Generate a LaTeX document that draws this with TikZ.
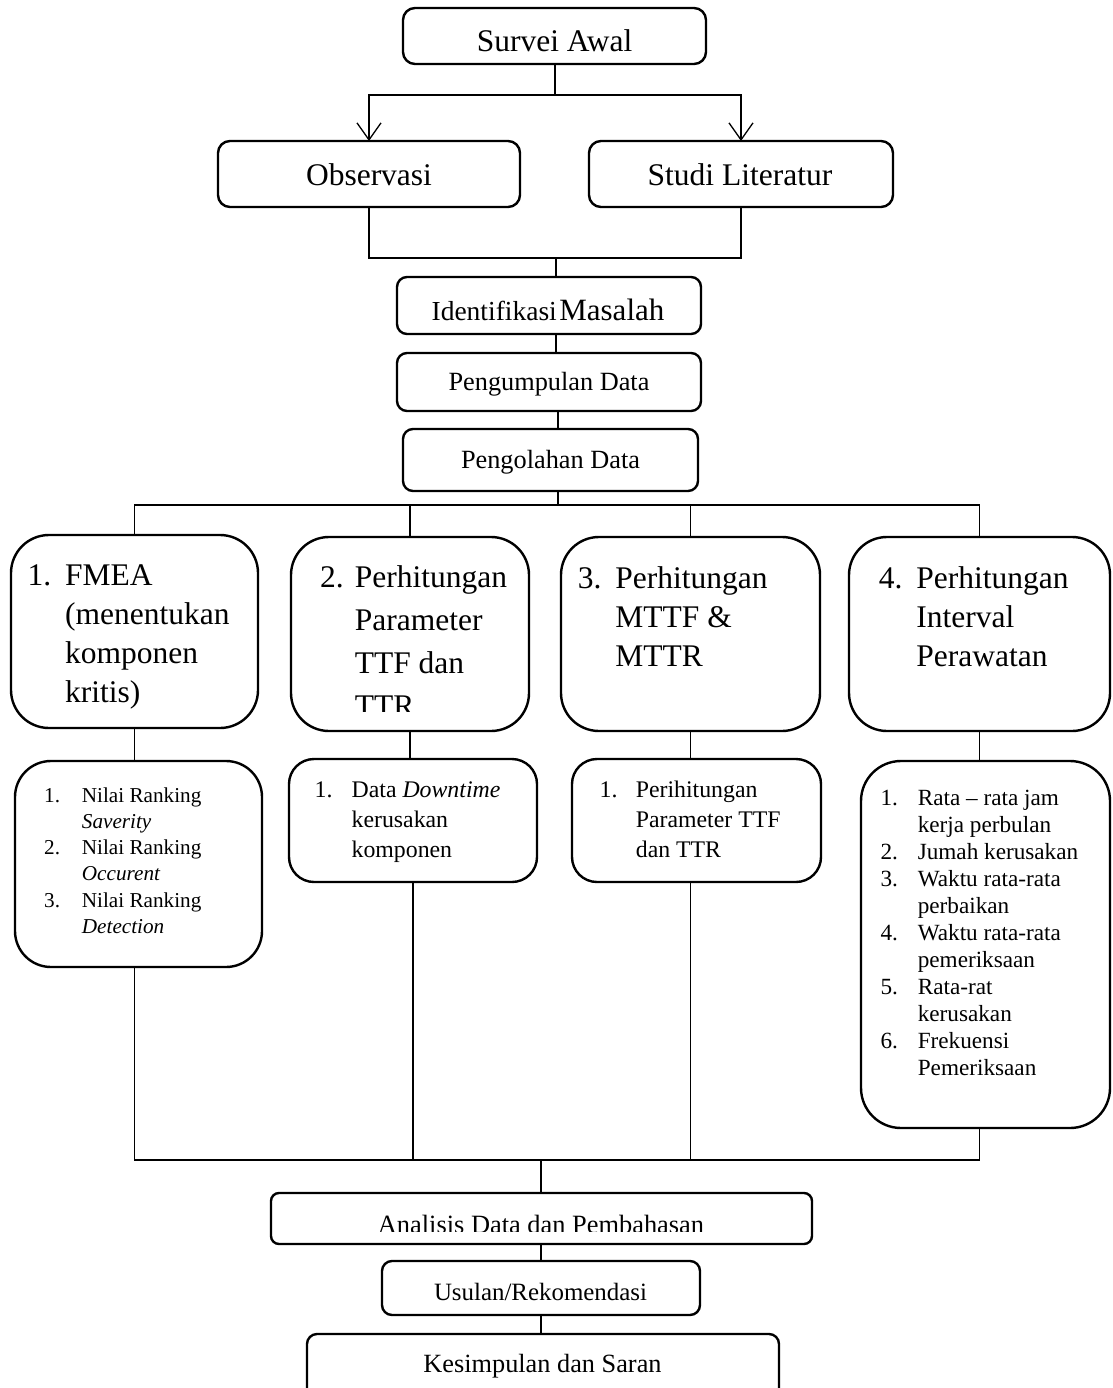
\documentclass[tikz,border=0pt]{standalone}
\usepackage{fontspec}
\setmainfont{Liberation Serif}
\usetikzlibrary{arrows.meta}
\newcommand{\myfs}[2]{\fontsize{#1}{#2}\selectfont}
\tikzset{
  box/.style={draw, line width=2.4pt, rounded corners=#1, inner sep=0pt, outer sep=0pt},
  box/.default=10pt,
  conn/.style={line width=1.3pt},
  arr/.style={conn, -{Straight Barb[length=17pt,width=24pt]}},
  lbl/.style={inner sep=0pt, anchor=base},
  lst/.style={inner sep=0pt, anchor=base west},
}
\begin{document}
\begin{tikzpicture}[x=1pt,y=-1pt]
\clip (0,0) rectangle (1112,1388);
\fill[white] (0,0) rectangle (1112,1388);

% ---------- top boxes ----------
\node[box=12pt, minimum width=303pt, minimum height=56pt] (survei) at (554.5,36) {};
\node[lbl, font={\myfs{31.5}{38}}] (tsurvei) at (554.5,51.7) {Survei Awal};

\node[box=12pt, minimum width=302pt, minimum height=66pt] (obs) at (369,174) {};
\node[lbl, font={\myfs{31.5}{38}}] (tobs) at (369,186) {Observasi};

\node[box=12pt, minimum width=304pt, minimum height=66pt] (studi) at (741,174) {};
\node[lbl, font={\myfs{31.5}{38}}] (tstudi) at (740,186) {Studi Literatur};

\node[box=10pt, minimum width=304pt, minimum height=57pt] (ident) at (549,305.5) {};
\node[lbl] (tident) at (548,320) {{\myfs{27.5}{33}Identifikasi} {\myfs{31}{37}Masalah}};

\node[box=10pt, minimum width=304pt, minimum height=58pt] (pengu) at (549,382) {};
\node[lbl, font={\myfs{26.3}{32}}] (tpengu) at (549,390) {Pengumpulan Data};

\node[box=10pt, minimum width=295pt, minimum height=62pt] (pengol) at (550.5,460) {};
\node[lbl, font={\myfs{26.3}{32}}] (tpengol) at (550.5,468) {Pengolahan Data};

% ---------- big boxes ----------
\node[box=38pt, minimum width=247pt, minimum height=193pt] (b1) at (134.5,631.5) {};
\node[box=38pt, minimum width=238pt, minimum height=194pt] (b2) at (410,634) {};
\node[box=38pt, minimum width=259pt, minimum height=194pt] (b3) at (690.5,634) {};
\node[box=38pt, minimum width=261pt, minimum height=194pt] (b4) at (979.5,634) {};

\node[lst, font={\myfs{31.5}{39.2}}] (tb1) at (27.4,585)
  {\begin{tabular}[t]{@{}l@{\hspace{14pt}}l@{}}1.&FMEA\\&(menentukan\\&komponen\\&kritis)\end{tabular}};
\begin{scope}
\clip (291,537) rectangle (529,711);
\node[lst, font={\myfs{31.5}{43}}] (tb2) at (320,587)
  {\begin{tabular}[t]{@{}l@{\hspace{11pt}}l@{}}2.&Perhitungan\\&Parameter\\&TTF dan\\&TTR\end{tabular}};
\end{scope}
\node[lst, font={\myfs{31.5}{39.2}}] (tb3) at (577.6,588)
  {\begin{tabular}[t]{@{}l@{\hspace{14pt}}l@{}}3.&Perhitungan\\&MTTF \&\\&MTTR\end{tabular}};
\node[lst, font={\myfs{31.5}{39.2}}] (tb4) at (878.6,588)
  {\begin{tabular}[t]{@{}l@{\hspace{14pt}}l@{}}4.&Perhitungan\\&Interval\\&Perawatan\end{tabular}};

% ---------- sub boxes ----------
\node[box=36pt, minimum width=247pt, minimum height=206pt] (s1) at (138.5,864) {};
\node[box=25pt, minimum width=248pt, minimum height=123pt] (s2) at (413,820.5) {};
\node[box=25pt, minimum width=249pt, minimum height=123pt] (s3) at (696.5,820.5) {};
\node[box=40pt, minimum width=249pt, minimum height=367pt] (s4) at (985.5,944.5) {};

\node[lst, font={\myfs{21.2}{26.3}}] (ts1) at (44,802)
  {\begin{tabular}[t]{@{}l@{\hspace{21.8pt}}l@{}}1.&Nilai Ranking\\&\textit{Saverity}\\2.&Nilai Ranking\\&\textit{Occurent}\\3.&Nilai Ranking\\&\textit{Detection}\end{tabular}};
\node[lst, font={\myfs{23.8}{30}}] (ts2) at (314.4,797)
  {\begin{tabular}[t]{@{}l@{\hspace{19.2pt}}l@{}}1.&Data \textit{Downtime}\\&kerusakan\\&komponen\end{tabular}};
\node[lst, font={\myfs{23.8}{30}}] (ts3) at (599.4,797)
  {\begin{tabular}[t]{@{}l@{\hspace{18.4pt}}l@{}}1.&Perihitungan\\&Parameter TTF\\&dan TTR\end{tabular}};
\node[lst, font={\myfs{23.2}{27}}] (ts4) at (880.4,805)
  {\begin{tabular}[t]{@{}l@{\hspace{19.8pt}}l@{}}1.&Rata – rata jam\\&kerja perbulan\\2.&Jumah kerusakan\\3.&Waktu rata-rata\\&perbaikan\\4.&Waktu rata-rata\\&pemeriksaan\\5.&Rata-rat\\&kerusakan\\6.&Frekuensi\\&Pemeriksaan\end{tabular}};

% ---------- bottom boxes ----------
\node[box=8pt, minimum width=541pt, minimum height=51pt] (anal) at (541.5,1218.5) {};
\begin{scope}
\clip (271,1193) rectangle (812,1231.5);
\node[lbl, font={\myfs{26.4}{32}}] (tanal) at (541,1233.5) {Analisis Data dan Pembahasan};
\end{scope}

\node[box=10pt, minimum width=318pt, minimum height=54pt] (usul) at (541,1288) {};
\node[lbl, font={\myfs{24.9}{30}}] (tusul) at (540.5,1300) {Usulan/Rekomendasi};

\node[box=10pt, minimum width=472pt, minimum height=76pt] (kes) at (543,1372) {};
\node[lbl, font={\myfs{26.3}{32}}] (tkes) at (542.5,1372) {Kesimpulan dan Saran};

% ---------- connectors ----------
\coordinate (j1) at (555,95);
\coordinate (j2) at (556,258);
\coordinate (bt) at (558,505);
\coordinate (bb) at (541,1160);

\draw[conn] (survei.south -| j1) -- (j1);
\draw[arr] (j1) -| (obs.north);
\draw[arr] (j1) -| (studi.north);

\draw[conn] (obs.south) |- (j2) -| (studi.south);
\draw[conn] (j2) -- (ident.north -| j2);
\draw[conn] (ident.south -| j2) -- (pengu.north -| j2);
\draw[conn] (pengu.south -| bt) -- (pengol.north -| bt);
\draw[conn] (pengol.south -| bt) -- (bt);

\draw[conn] (b1.north) |- (bt) -| (b4.north);
\draw[conn] (b2.north) -- (b2.north |- bt);
\draw[conn] (b3.north) -- (b3.north |- bt);

\draw[conn] (b1.south) -- (b1.south |- s1.north);
\draw[conn] (b2.south) -- (b2.south |- s2.north);
\draw[conn] (b3.south) -- (b3.south |- s3.north);
\draw[conn] (b4.south) -- (b4.south |- s4.north);

\draw[conn] (b1.south |- s1.south) |- (bb) -| (b4.south |- s4.south);
\draw[conn] (s2.south) -- (s2.south |- bb);
\draw[conn] (b3.south |- s3.south) -- (b3.south |- bb);

\draw[conn] (bb) -- (anal.north -| bb);
\draw[conn] (anal.south -| bb) -- (usul.north -| bb);
\draw[conn] (usul.south -| bb) -- (kes.north -| bb);
\end{tikzpicture}
\end{document}
